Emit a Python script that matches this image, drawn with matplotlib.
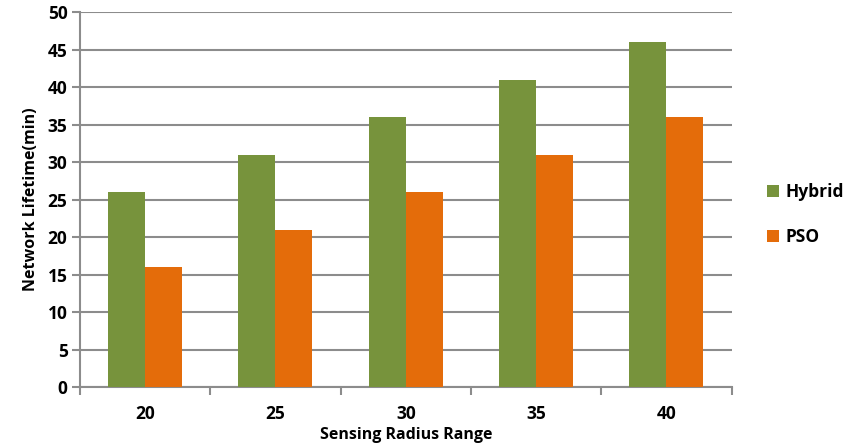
import matplotlib
matplotlib.use("Agg")
import matplotlib.pyplot as plt
import numpy as np

plt.rcParams["font.family"] = ["Open Sans", "DejaVu Sans"]
plt.rcParams["font.weight"] = "bold"

radius = ["20", "25", "30", "35", "40"]
hybrid = [26, 31, 36, 41, 46]
pso = [16, 21, 26, 31, 36]

fig = plt.figure(figsize=(8.45, 4.48), dpi=100)
ax = fig.add_axes([0.0947, 0.136, 0.771, 0.837])

x = np.arange(len(radius))
w = 0.284
ax.bar(x - w / 2, hybrid, w, color="#77933C", label="Hybrid", zorder=3)
ax.bar(x + w / 2, pso, w, color="#E46C0A", label="PSO", zorder=3)

ax.set_xlim(-0.5, len(radius) - 0.5)
ax.set_ylim(0, 50)
ax.set_yticks(range(0, 51, 5))
ax.yaxis.grid(True, color="#8c8c8c", linewidth=1.5, zorder=0)
ax.set_axisbelow(True)

for s in ["top", "right"]:
    ax.spines[s].set_visible(False)
for s in ["left", "bottom"]:
    ax.spines[s].set_color("#8c8c8c")
    ax.spines[s].set_linewidth(1.5)

ax.set_xticks(x)
ax.set_xticklabels(radius)
ax.set_xticks(np.arange(-0.5, len(radius)), minor=True)
ax.tick_params(axis="x", which="major", length=0, pad=13, labelsize=12.5)
ax.tick_params(axis="x", which="minor", length=6, width=1.5, color="#8c8c8c")
ax.tick_params(axis="y", length=6, width=1.5, color="#8c8c8c", labelsize=12.5, pad=3)
for lbl in ax.get_xticklabels() + ax.get_yticklabels():
    lbl.set_fontweight("bold")

ax.set_ylabel("Network Lifetime(min)", fontsize=11.5, fontweight="bold", labelpad=6)
ax.set_xlabel("Sensing Radius Range", fontsize=11.5, fontweight="bold", labelpad=3)

ax.legend(loc="center left", bbox_to_anchor=(1.03, 0.46), frameon=False,
          handlelength=0.7, handleheight=0.7, handletextpad=0.4,
          labelspacing=1.6, prop={"weight": "bold", "size": 12.5})

fig.savefig("out.png", dpi=100)
